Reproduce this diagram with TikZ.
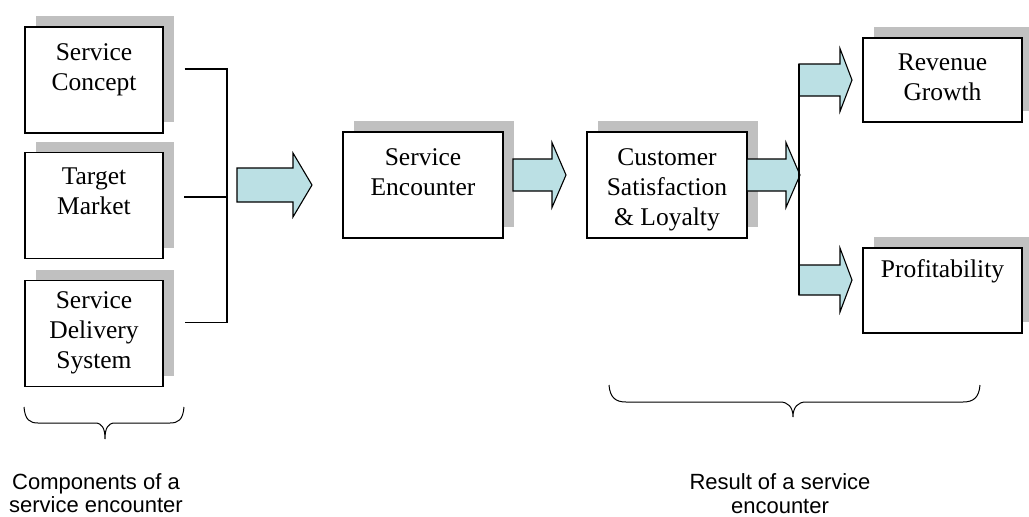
\documentclass[tikz,border=0pt]{standalone}
\usepackage{fontspec}
\setmainfont{Liberation Serif}
\newfontfamily\arialf{Liberation Sans}
\usetikzlibrary{shadows}
\definecolor{shadowgray}{RGB}{192,192,192}
\definecolor{arrowcyan}{RGB}{187,224,228}
\newcommand{\boxtext}[4]{\parbox[c][#2][t]{#1}{\centering\rule{0pt}{#3}#4\par}}
\newcommand{\blockarrow}[6]{%
  \draw[barrow] (#1,#4-#5) -- (#3,#4-#5) -- (#3,#4-#6) -- (#2,#4) -- (#3,#4+#6) -- (#3,#4+#5) -- (#1,#4+#5) -- cycle;}
\tikzset{
  boxnode/.style={draw, line width=1.2pt, fill=white, inner sep=0pt,
    font=\fontsize{25.5}{30}\selectfont,
    drop shadow={shadow xshift=10.5pt, shadow yshift=11pt, fill=shadowgray, opacity=1}},
  barrow/.style={fill=arrowcyan, draw, line width=1.1pt, line join=miter},
  wire/.style={line width=1.2pt},
  bracestyle/.style={line width=1pt},
  caption/.style={font=\arialf\fontsize{22}{23.5}\selectfont, align=center, inner sep=0pt, anchor=north}
}
\begin{document}
\begin{tikzpicture}[x=1pt,y=-1pt]
\useasboundingbox (0,0) rectangle (1029,517);

% component boxes
\node[boxnode] (sc) at (94,80)    {\boxtext{138pt}{106pt}{33pt}{Service\\Concept}};
\node[boxnode] (tm) at (94,205.5) {\boxtext{138pt}{106pt}{32pt}{Target\\Market}};
\node[boxnode] (sd) at (94,333.5) {\boxtext{138pt}{106pt}{28pt}{Service\\Delivery\\System}};

% middle boxes
\node[boxnode] (se) at (423,185)  {\boxtext{160pt}{106pt}{33pt}{Service\\Encounter}};
\node[boxnode] (cs) at (667,185)  {\boxtext{160pt}{106pt}{33pt}{Customer\\Satisfaction\\\&~Loyalty}};

% result boxes
\node[boxnode] (rg) at (942.5,80)    {\boxtext{159pt}{84pt}{32pt}{Revenue\\Growth}};
\node[boxnode] (pr) at (942.5,290.5) {\boxtext{159pt}{85pt}{29pt}{Profitability}};

% bracket connector on the left
\coordinate (bus) at (227,0);
\coordinate (c1) at ([shift={(21,-11)}]sc.east);
\coordinate (c2) at (184,197);
\coordinate (c3) at ([shift={(21,-11)}]sd.east);
\draw[wire] (c1) -- (c1 -| bus) -- (c3 -| bus) -- (c3);
\draw[wire] (c2) -- (c2 -| bus);

% block arrows
\blockarrow{237}{312}{293}{185}{17}{32}
\blockarrow{513}{566}{552}{175}{16}{32.5}
\blockarrow{747}{800}{786}{175}{16}{32.5}
\blockarrow{799}{852}{840}{80}{16}{31.5}
\blockarrow{799}{852}{840}{280}{15}{32}

% vertical splitter on the right
\coordinate (s1) at (799,64);
\coordinate (s2) at (799,295);
\draw[wire] (s1) -- (s2);

% braces
\draw[bracestyle] (24,407) .. controls (25,420) and (30,423) .. (38,423)
  -- (95,423) .. controls (102,423) and (105,428) .. (105,439)
  .. controls (105,428) and (108,423) .. (115,423)
  -- (170,423) .. controls (178,423) and (183,420) .. (184,407);
\draw[bracestyle] (609,385) .. controls (610,398) and (616,402) .. (626,402)
  -- (780,402) .. controls (788,402) and (793,407) .. (793,417)
  .. controls (793,407) and (798,402) .. (806,402)
  -- (963,402) .. controls (973,402) and (979,398) .. (980,385);

% captions
\node[caption] (lcap) at (96,473) {Components of a\\service encounter};
\node[caption] (rcap) at (780,473.5) {Result of a service\\encounter};
\end{tikzpicture}
\end{document}
